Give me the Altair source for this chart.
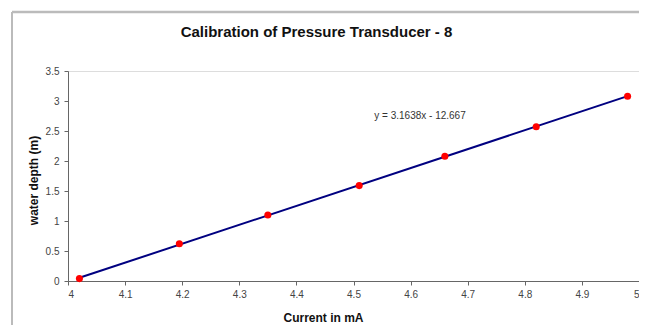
import altair as alt
import pandas as pd

current_ma = [4.02, 4.195, 4.35, 4.51, 4.66, 4.82, 4.98]
water_depth = [0.04, 0.62, 1.10, 1.59, 2.08, 2.57, 3.08]
x_ticks = [4.0, 4.1, 4.2, 4.3, 4.4, 4.5, 4.6, 4.7, 4.8, 4.9, 5.0]
y_ticks = [0.0, 0.5, 1.0, 1.5, 2.0, 2.5, 3.0, 3.5]
equation = ["y = 3.1638x - 12.667"]

df = pd.DataFrame({"current": current_ma, "depth": water_depth})

FONT = "Liberation Sans"
W, H = 571, 210

xs = alt.Scale(domain=[4, 5], nice=False, zero=False)
ys = alt.Scale(domain=[0, 3.5], nice=False, zero=False)

x_axis = alt.Axis(
    title="Current in mA", values=x_ticks, format="~g", grid=False,
    tickSize=4, labelPadding=4, labelFontSize=10, labelColor="#444444",
    titleFontSize=12, titleFontWeight="bold", titleColor="#111111",
    titleX=255, titleY=36, titleBaseline="middle", titleAlign="center",
    domainColor="#666666", tickColor="#666666", labelFont=FONT, titleFont=FONT,
    labelOverlap=False,
)
y_axis = alt.Axis(
    title="water depth (m)", values=y_ticks, format="~g", grid=False,
    tickSize=4, labelPadding=5, labelFontSize=10, labelColor="#444444",
    titleFontSize=12, titleFontWeight="bold", titleColor="#111111",
    titleX=-35, titleY=109, titleBaseline="middle", titleAlign="center", titleAngle=-90,
    domainColor="#666666", tickColor="#666666", labelFont=FONT, titleFont=FONT,
    labelOverlap=False,
)

x_enc = alt.X("current:Q", scale=xs, axis=x_axis)
y_enc = alt.Y("depth:Q", scale=ys, axis=y_axis)

line = alt.Chart(df).transform_regression("current", "depth").mark_line(
    color="#000080", strokeWidth=2
).encode(x=x_enc, y=y_enc)

points = alt.Chart(df).mark_point(
    filled=True, color="#ff0000", size=50, opacity=1
).encode(x=x_enc, y=y_enc)

eq_text = alt.Chart(pd.DataFrame({"t": equation})).mark_text(
    fontSize=10, font=FONT, color="#333333", align="center", baseline="middle"
).encode(text="t:N", x=alt.value(352), y=alt.value(45))

border_top = alt.Chart(pd.DataFrame({"t": equation})).mark_rule(
    color="#bbbbbb", strokeWidth=2.5
).encode(x=alt.value(-56), x2=alt.value(W + 10), y=alt.value(-59))
border_left = alt.Chart(pd.DataFrame({"t": equation})).mark_rule(
    color="#bbbbbb", strokeWidth=2
).encode(x=alt.value(-56), y=alt.value(-59), y2=alt.value(H + 60))

chart = alt.layer(border_top, border_left, line, points, eq_text).properties(
    width=W, height=H,
    title=alt.TitleParams(
        "Calibration of Pressure Transducer - 8", font=FONT, fontSize=15,
        fontWeight="bold", color="#111111", frame="group", anchor="middle",
        dx=-37, offset=-29,
    ),
    autosize=alt.AutoSizeParams(type="none"),
    padding={"left": 60, "top": 63, "right": 0, "bottom": 44},
).configure_view(stroke="#888888", strokeWidth=1).configure(background="white")

chart.save("out.html", embed_options={"renderer": "svg", "actions": False})
